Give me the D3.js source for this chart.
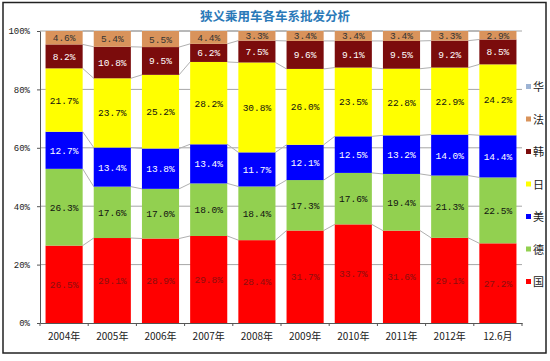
<!DOCTYPE html>
<html>
<head>
<meta charset="utf-8">
<script src="https://cdn.jsdelivr.net/npm/d3@7"></script>
<style>
    body { margin: 0; background: #fff; }
    svg text { font-family: "Liberation Mono", "DejaVu Sans Mono", monospace; }
    .cjk { font-family: "Noto Sans CJK SC", sans-serif; }
</style>
</head>
<body>
<div id="chart"></div>
<script>
// categories and series values (percent)
const years = ["2004年", "2005年", "2006年", "2007年", "2008年", "2009年", "2010年", "2011年", "2012年", "12.6月"];
const guo  = [26.5, 29.1, 28.9, 29.8, 28.4, 31.7, 33.7, 31.6, 29.1, 27.2];
const de   = [26.3, 17.6, 17.0, 18.0, 18.4, 17.3, 17.6, 19.4, 21.3, 22.5];
const mei  = [12.7, 13.4, 13.8, 13.4, 11.7, 12.1, 12.5, 13.2, 14.0, 14.4];
const ri   = [21.7, 23.7, 25.2, 28.2, 30.8, 26.0, 23.5, 22.8, 22.9, 24.2];
const han  = [8.2, 10.8, 9.5, 6.2, 7.5, 9.6, 9.1, 9.5, 9.2, 8.5];
const fa   = [4.6, 5.4, 5.5, 4.4, 3.3, 3.4, 3.4, 3.4, 3.3, 2.9];
const hua  = [0, 0, 0, 0, 0, 0, 0, 0, 0, 0];
const seriesNames = ["国", "德", "美", "日", "韩", "法", "华"];
const yTicks = [0, 0.2, 0.4, 0.6, 0.8, 1];

const seriesValues = [guo, de, mei, ri, han, fa, hua];
const colors = ["#ff0000", "#92d050", "#0000ff", "#ffff00", "#7b0c0c", "#d9935b", "#9db3d4"];
const labelColors = ["#8c0f0f", "#111", "#fff", "#111", "#fff", "#333", "#333"];

const table = years.map((y, i) => {
    const row = { year: y };
    seriesNames.forEach((s, j) => row[s] = seriesValues[j][i]);
    return row;
});

const W = 550, H = 361;
const margin = { top: 31, right: 28, bottom: 38, left: 40 };
const width = W - margin.left - margin.right;
const height = H - margin.top - margin.bottom;

const svg = d3.select("#chart").append("svg")
    .attr("width", W)
    .attr("height", H);

// outer frame
svg.append("rect")
    .attr("x", 3).attr("y", 2.5)
    .attr("width", 543).attr("height", 350.5)
    .attr("fill", "#fff")
    .attr("stroke", "#222")
    .attr("stroke-width", 1.5);

svg.append("text")
    .attr("class", "cjk")
    .attr("x", 275).attr("y", 21)
    .attr("text-anchor", "middle")
    .attr("font-size", 12.5)
    .attr("font-weight", "bold")
    .attr("fill", "#2a79b8")
    .text("狭义乘用车各车系批发分析");

const g = svg.append("g")
    .attr("transform", `translate(${margin.left},${margin.top})`);

const x = d3.scaleBand()
    .domain(years)
    .range([0, width])
    .paddingInner(0.23)
    .paddingOuter(0.115);

const y = d3.scaleLinear()
    .domain([0, 1])
    .range([height, 0]);

const stack = d3.stack()
    .keys(seriesNames)
    .offset(d3.stackOffsetExpand);
const stacked = stack(table);

// gridlines
g.append("g")
    .selectAll("line")
    .data(yTicks.slice(1))
    .join("line")
    .attr("x1", 0).attr("x2", width)
    .attr("y1", d => y(d)).attr("y2", d => y(d))
    .attr("stroke", "#a6a6a6")
    .attr("stroke-width", 1);

// series lines between bars
stacked.forEach(layer => {
    for (let i = 0; i < layer.length - 1; i++) {
        g.append("line")
            .attr("x1", x(years[i]) + x.bandwidth())
            .attr("x2", x(years[i + 1]))
            .attr("y1", y(layer[i][1]))
            .attr("y2", y(layer[i + 1][1]))
            .attr("stroke", "#b0b0b0")
            .attr("stroke-width", 1);
    }
});

// bars
const layers = g.append("g")
    .selectAll("g")
    .data(stacked)
    .join("g")
    .attr("fill", (d, i) => colors[i]);

layers.selectAll("rect")
    .data(d => d)
    .join("rect")
    .attr("x", d => x(d.data.year))
    .attr("y", d => y(d[1]))
    .attr("width", x.bandwidth())
    .attr("height", d => y(d[0]) - y(d[1]));

// value labels
stacked.forEach((layer, i) => {
    g.append("g")
        .selectAll("text")
        .data(layer.filter(d => d.data[seriesNames[i]] > 0))
        .join("text")
        .attr("x", d => x(d.data.year) + x.bandwidth() / 2)
        .attr("y", d => (y(d[0]) + y(d[1])) / 2 + 3.5)
        .attr("text-anchor", "middle")
        .attr("font-size", 9.5)
        .attr("fill", labelColors[i])
        .text(d => d.data[seriesNames[i]].toFixed(1) + "%");
});

// axes
const yAxis = g.append("g")
    .call(d3.axisLeft(y).tickValues(yTicks).tickFormat(d3.format(".0%")).tickSize(3).tickSizeOuter(0));
yAxis.select(".domain").attr("stroke", "#555");
yAxis.selectAll(".tick line").attr("stroke", "#555");
yAxis.selectAll("text")
    .attr("font-size", 9)
    .attr("fill", "#222")
    .attr("dx", -4)
    .style("font-family", "Liberation Mono, monospace");

const xAxis = g.append("g")
    .attr("transform", `translate(0,${height})`)
    .call(d3.axisBottom(x).tickSize(0));
xAxis.select(".domain").attr("stroke", "#555");
xAxis.selectAll("text")
    .attr("class", "cjk")
    .attr("font-size", 10)
    .attr("fill", "#222")
    .attr("dy", "1.4em");

// category separator ticks
const step = x.step();
g.append("g")
    .selectAll("line")
    .data(d3.range(years.length + 1))
    .join("line")
    .attr("x1", d => d * step).attr("x2", d => d * step)
    .attr("y1", height).attr("y2", height + 3)
    .attr("stroke", "#555");

// legend
const legend = svg.append("g")
    .attr("transform", "translate(526,0)");
const legendOrder = seriesNames.slice().reverse();
legendOrder.forEach((name, k) => {
    const idx = seriesNames.indexOf(name);
    const ly = 87 + k * 32.5;
    legend.append("rect")
        .attr("x", 0).attr("y", ly - 3)
        .attr("width", 5).attr("height", 5)
        .attr("fill", colors[idx]);
    legend.append("text")
        .attr("class", "cjk")
        .attr("x", 7).attr("y", ly + 4)
        .attr("font-size", 11)
        .attr("fill", "#222")
        .text(name);
});
</script>
</body>
</html>
